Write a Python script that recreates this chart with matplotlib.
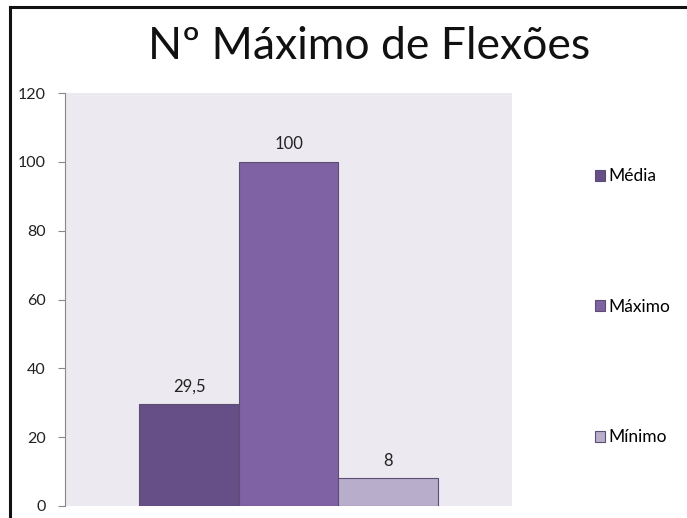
import matplotlib
matplotlib.use("Agg")
import matplotlib.pyplot as plt
from matplotlib.lines import Line2D

plt.rcParams['font.family'] = ['Lato', 'DejaVu Sans']

title = "Nº Máximo de Flexões"
series = ["Média", "Máximo", "Mínimo"]
values = [29.5, 100, 8]
value_labels = ["29,5", "100", "8"]
colors = ["#664e87", "#7f62a3", "#b8adcb"]
yticks = [0, 20, 40, 60, 80, 100, 120]

fig = plt.figure(figsize=(6.87, 5.18), dpi=100)
ax = fig.add_axes([0.0946, 0.0232, 0.651, 0.797])
ax.set_facecolor("#eceaf0")

positions = [-1, 0, 1]
bars = []
for pos, val, lab, col, name in zip(positions, values, value_labels, colors, series):
    b = ax.bar(pos, val, width=1.0, color=col, edgecolor="#5c4d72",
               linewidth=0.8, label=name)
    bars.append(b)
    ax.annotate(lab, (pos, val), xytext=(0, 7), textcoords="offset points",
                ha="center", va="bottom", fontsize=12, color="#222222")

ax.set_xlim(-2.245, 2.245)
ax.set_ylim(0, 120)
ax.set_yticks(yticks)
ax.set_yticklabels([str(t) for t in yticks], fontsize=11.5, color="#222222")
ax.set_xticks([])
ax.tick_params(axis="y", direction="out", length=5, width=0.8,
               color="#888888", pad=9)
for side in ["top", "right", "bottom"]:
    ax.spines[side].set_visible(False)
ax.spines["left"].set_color("#888888")
ax.spines["left"].set_linewidth(0.8)

fig.text(0.537, 0.911, title, ha="center", va="center", fontsize=32,
         color="#111111")

fig.legend(handles=[b[0] for b in bars], labels=series,
           loc="upper left", bbox_to_anchor=(0.853, 0.692),
           frameon=False, fontsize=12.5, handlelength=0.6, handleheight=0.6,
           handletextpad=0.2, labelspacing=6.6, borderpad=0)

# outer frame along the top and left edges
fig.add_artist(Line2D([0.0145, 1.0], [0.986, 0.986], transform=fig.transFigure,
                      color="#111111", linewidth=2.2))
fig.add_artist(Line2D([0.0145, 0.0145], [0.0, 0.986], transform=fig.transFigure,
                      color="#111111", linewidth=2.2))

fig.savefig("out.png", dpi=100, facecolor="white")
